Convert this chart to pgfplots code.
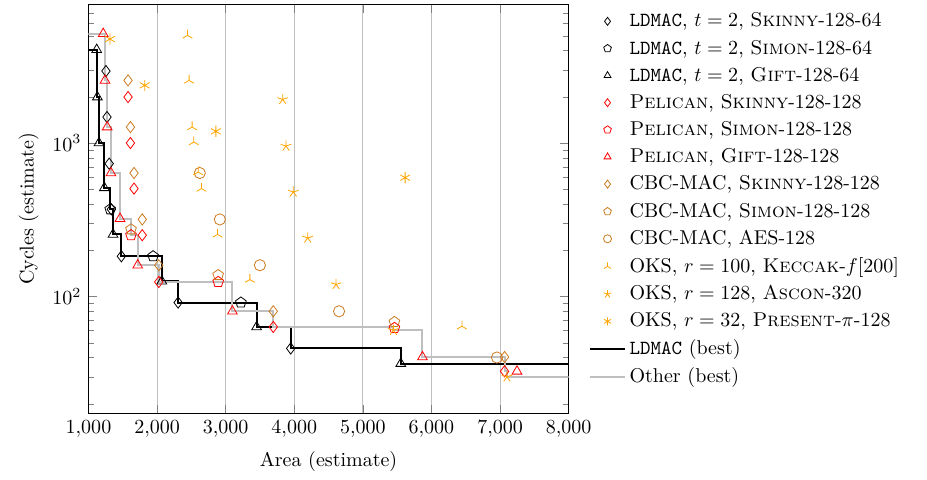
\documentclass[border=0pt]{standalone}
\usepackage{pgfplots}
\pgfplotsset{compat=1.18}
\usetikzlibrary{plotmarks}
\definecolor{cbc}{RGB}{204,122,30}
\definecolor{oks}{RGB}{255,165,0}
\newcommand{\ldmac}{\texttt{LDMAC}}

\begin{document}
\begin{tikzpicture}
\begin{axis}[
    scale only axis,
    width=240pt, height=204.5pt,
    xmin=1000, xmax=8000,
    ymode=log, ymin=17.3, ymax=8000,
    xtick={1000,2000,...,8000},
    scaled x ticks=false,
    xmajorgrids,
    xlabel={Area (estimate)},
    ylabel={Cycles (estimate)},
    mark size=2.8pt,
    legend image post style={mark size=2pt},
    legend style={draw=none, at={(1.03,1)}, anchor=north west, cells={anchor=west},
        row sep=1pt},
]
% LDMAC, t = 2
\addplot[only marks, mark=diamond, black] coordinates {
    (1255,2943)(1270,1476)(1302,734)(1334,370)(1480,183)(2307,91.4)(3948,45.9)};
\addlegendentry{\ldmac, $t=2$, \textsc{Skinny}-128-64}
\addplot[only marks, mark=pentagon, black] coordinates {
    (1317,370)(1942,183)(3222,91.4)};
\addlegendentry{\ldmac, $t=2$, \textsc{Simon}-128-64}
\addplot[only marks, mark=triangle, black] coordinates {
    (1120,4055)(1130,1993)(1153,1000)(1232,511)(1358,254)(2069,126)(3451,63.4)(5553,36.6)};
\addlegendentry{\ldmac, $t=2$, \textsc{Gift}-128-64}
% Pelican
\addplot[only marks, mark=diamond, red] coordinates {
    (1577,1993)(1612,1000)(1664,505)(1784,251)(2025,124.5)(3694,63.4)(7066,32.6)};
\addlegendentry{\textsc{Pelican}, \textsc{Skinny}-128-128}
\addplot[only marks, mark=pentagon, red] coordinates {
    (1620,251)(2891,124.5)(5460,62.5)};
\addlegendentry{\textsc{Pelican}, \textsc{Simon}-128-128}
\addplot[only marks, mark=triangle, red] coordinates {
    (1215,5153)(1241,2559)(1273,1271)(1328,638)(1460,322)(1718,160)(3098,80.2)(5869,40.4)(7247,32.6)};
\addlegendentry{\textsc{Pelican}, \textsc{Gift}-128-128}
% CBC-MAC
\addplot[only marks, mark=diamond, cbc] coordinates {
    (1577,2559)(1612,1271)(1664,638)(1784,318)(2025,160)(3694,80.2)(7066,40.4)};
\addlegendentry{CBC-MAC, \textsc{Skinny}-128-128}
\addplot[only marks, mark=pentagon, cbc] coordinates {
    (1620,274)(2891,138)(5460,68.3)};
\addlegendentry{CBC-MAC, \textsc{Simon}-128-128}
\addplot[only marks, mark=o, cbc] coordinates {
    (2623,638)(2915,318)(3499,160)(4653,80.2)(6955,40.1)};
\addlegendentry{CBC-MAC, AES-128}
% OKS
\addplot[only marks, mark=Mercedes star, oks] coordinates {
    (2444,5026)(2467,2559)(2511,1271)(2536,1015)(2599,647)(2648,505)(2882,254)(3353,129)(6444,64.1)};
\addlegendentry{OKS, $r=100$, \textsc{Keccak}-$f[200]$}
\addplot[only marks, mark=star, oks] coordinates {
    (3831,1925)(3879,956)(3986,480)(4196,241)(4609,120)(5445,60.4)(7101,30.0)};
\addlegendentry{OKS, $r=128$, \textsc{Ascon}-320}
\addplot[only marks, mark=asterisk, oks] coordinates {
    (1314,4755)(1820,2375)(2857,1192)(5616,595)};
\addlegendentry{OKS, $r=32$, \textsc{Present}-$\pi$-128}
% best fronts
\addplot[const plot, black, line width=1pt, no marks] coordinates {
    (900,4055)(1120,4055)(1130,1993)(1153,1000)(1232,511)(1317,370)(1358,254)(1480,183)
    (2069,126)(2307,91.4)(3451,63.4)(3948,45.9)(5553,36.6)(9000,36.6)};
\addlegendentry{\ldmac{} (best)}
\addplot[const plot, black!25, line width=1pt, no marks] coordinates {
    (900,5153)(1215,5153)(1241,2559)(1273,1271)(1328,638)(1460,322)(1620,251)(1718,160)
    (2025,124.5)(3098,80.2)(3694,63.4)(5445,60.4)(5869,40.4)(7066,32.6)(7101,30.0)(9000,30.0)};
\addlegendentry{Other (best)}
\end{axis}
\path (current bounding box.north east) ++(9pt,2pt);
\path (current bounding box.south west) ++(-6pt,-1pt);
\end{tikzpicture}
\end{document}
